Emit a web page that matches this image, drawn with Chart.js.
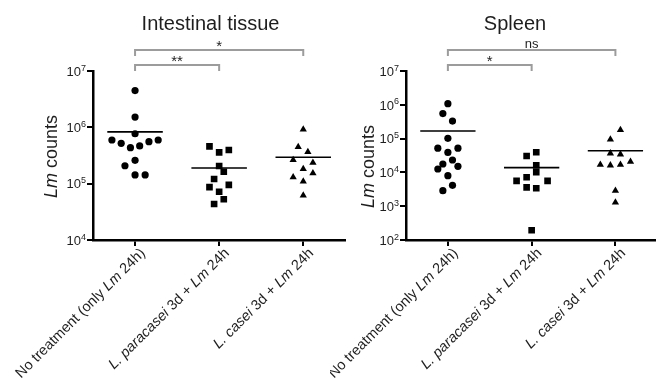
<!DOCTYPE html>
<html>
<head>
<meta charset="utf-8">
<script src="https://cdn.jsdelivr.net/npm/chart.js@4.4.1/dist/chart.umd.min.js"></script>
<style>
  body { margin: 0; background: #fff; width: 656px; height: 380px; overflow: hidden; position: relative; }
  #gut { position: absolute; left: 0; top: 0; }
  #spleen { position: absolute; left: 330px; top: 0; }
</style>
</head>
<body>
<canvas id="gut" width="350" height="380"></canvas>
<canvas id="spleen" width="332" height="380"></canvas>
<script>
// groups (x axis), <i> marks italic words
const categories = [
  'No treatment (only <i>Lm</i> 24h)',
  '<i>L. paracasei</i> 3d + <i>Lm</i> 24h',
  '<i>L. casei</i> 3d + <i>Lm</i> 24h'
];

// Intestinal tissue, Lm counts per animal (xOff = horizontal spread inside the group)
const gutNone     = [4.5e6, 1.52e6, 7.7e5, 5.96e5, 5.2e5, 4.35e5, 4.67e5, 5.56e5, 5.96e5, 2.6e5, 2.08e5, 1.43e5, 1.43e5];
const gutNoneOff  = [0, 0, 0, -0.275, -0.165, -0.055, 0.055, 0.165, 0.275, 0, -0.12, 0, 0.12];
const gutPara     = [4.6e5, 3.6e5, 3.96e5, 2.06e5, 1.63e5, 1.21e5, 8.7e4, 9.5e4, 7.2e4, 5.3e4, 4.35e4];
const gutParaOff  = [-0.115, 0, 0.115, 0, 0.055, -0.06, -0.115, 0.115, 0, 0.055, -0.06];
const gutCasei    = [9.2e5, 4.5e5, 3.65e5, 2.63e5, 2.36e5, 1.82e5, 1.3e5, 1.53e5, 1.1e5, 6.2e4];
const gutCaseiOff = [0, -0.06, 0.055, -0.12, 0.115, 0, -0.12, 0.115, 0, 0];
const gutMeans    = [8.3e5, 1.9e5, 2.94e5];

// Spleen
const splNone     = [1.08e6, 5.5e5, 3.3e5, 1.02e5, 5.2e4, 3.9e4, 5.2e4, 2.33e4, 1.77e4, 1.26e4, 1.51e4, 8.0e3, 4.15e3, 2.88e3];
const splNoneOff  = [0, -0.06, 0.055, 0, -0.12, 0, 0.12, 0.055, -0.06, -0.12, 0.12, 0, 0.055, -0.06];
const splPara     = [3.05e4, 3.94e4, 1.62e4, 1.01e4, 7.2e3, 5.6e3, 5.6e3, 3.6e3, 3.4e3, 194];
const splParaOff  = [-0.06, 0.055, 0.055, 0.055, -0.06, -0.18, 0.19, -0.06, 0.055, 0];
const splCasei    = [1.8e5, 9.5e4, 3.67e4, 3.43e4, 1.69e4, 1.62e4, 1.69e4, 2.07e4, 2.88e3, 1.3e3];
const splCaseiOff = [0.06, -0.06, -0.06, 0.06, -0.18, -0.06, 0.06, 0.18, 0, 0];
const splMeans    = [1.68e5, 1.38e4, 4.39e4];

// y axis decades (tick labels are 10^n)
const gutDecades = [4, 5, 6, 7];
const splDecades = [2, 3, 4, 5, 6, 7];

// significance: [group a, group b, label]
const gutSig = [[0, 1, '**'], [0, 2, '*']];
const splSig = [[0, 1, '*'], [0, 2, 'ns']];

const FONT = '"Liberation Sans", Arial, Helvetica, sans-serif';
const INK = '#1e1e1e';

function parts(str) {
  let italic = false;
  const out = [];
  str.split(/(<i>|<\/i>)/).forEach(s => {
    if (s === '<i>') italic = true;
    else if (s === '</i>') italic = false;
    else if (s) out.push([s, italic]);
  });
  return out;
}

function drawRich(ctx, str, size, align) {
  const p = parts(str);
  const fnt = it => (it ? 'italic ' : '') + size + 'px ' + FONT;
  let total = 0;
  p.forEach(([s, it]) => { ctx.font = fnt(it); total += ctx.measureText(s).width; });
  let x = align === 'right' ? -total : align === 'center' ? -total / 2 : 0;
  ctx.textAlign = 'left';
  p.forEach(([s, it]) => {
    ctx.font = fnt(it);
    ctx.fillText(s, x, 0);
    x += ctx.measureText(s).width;
  });
}

const annot = {
  id: 'annot',
  afterDraw(chart, args, o) {
    const ctx = chart.ctx, xs = chart.scales.x, ys = chart.scales.y, area = chart.chartArea;
    ctx.save();
    ctx.fillStyle = INK;

    // panel title
    ctx.font = '20px ' + FONT;
    ctx.textAlign = 'center';
    ctx.textBaseline = 'alphabetic';
    ctx.fillText(o.title, o.titleX, 30);

    // y tick labels 10^n with a real superscript
    o.decades.forEach(d => {
      const y = ys.getPixelForValue(Math.pow(10, d));
      const right = area.left - 7;
      ctx.textAlign = 'right';
      ctx.font = '9px ' + FONT;
      const sw = ctx.measureText(String(d)).width;
      ctx.fillText(String(d), right, y - 0.5);
      ctx.font = '13px ' + FONT;
      ctx.fillText('10', right - sw, y + 4.7);
    });

    // y axis title
    ctx.save();
    ctx.translate(o.yTitleX, o.yTitleY);
    ctx.rotate(-Math.PI / 2);
    ctx.textBaseline = 'middle';
    drawRich(ctx, '<i>Lm</i> counts', 18, 'center');
    ctx.restore();

    // rotated group labels
    categories.forEach((c, i) => {
      ctx.save();
      ctx.translate(xs.getPixelForValue(i) + 8, area.bottom + 11);
      ctx.rotate(-Math.PI / 4);
      ctx.textBaseline = 'middle';
      drawRich(ctx, c, 14.5, 'right');
      ctx.restore();
    });

    // significance brackets
    const levels = [65, 50];
    o.sig.forEach(([a, b, lab], k) => {
      const xa = xs.getPixelForValue(a), xb = xs.getPixelForValue(b), y = levels[k];
      ctx.strokeStyle = '#9c9c9c';
      ctx.lineWidth = 2;
      ctx.beginPath();
      ctx.moveTo(xa, y + 6);
      ctx.lineTo(xa, y);
      ctx.lineTo(xb, y);
      ctx.lineTo(xb, y + 6);
      ctx.stroke();
      ctx.fillStyle = INK;
      ctx.textAlign = 'center';
      ctx.textBaseline = 'alphabetic';
      ctx.font = (lab === 'ns' ? 13 : 15) + 'px ' + FONT;
      ctx.fillText(lab, (xa + xb) / 2, lab === 'ns' ? y - 2 : y + 1);
    });
    ctx.restore();
  }
};

function groupData(vals, offs, g) {
  return vals.map((v, i) => ({ x: g + offs[i], y: v }));
}

function meanLine(means) {
  const pts = [];
  means.forEach((m, g) => {
    pts.push({ x: g - 0.33, y: m }, { x: g + 0.33, y: m }, { x: g + 0.4, y: NaN });
  });
  return pts;
}

function makeChart(id, groups, means, decades, sig, yWidth, title) {
  const styles = [
    { pointStyle: 'circle', radius: 3.6 },
    { pointStyle: 'rect', radius: 4.7 },
    { pointStyle: 'triangle', radius: 4.2 }
  ];
  const datasets = groups.map(([vals, offs], g) => ({
    type: 'scatter',
    data: groupData(vals, offs, g),
    pointStyle: styles[g].pointStyle,
    pointRadius: styles[g].radius,
    pointBackgroundColor: '#000',
    pointBorderWidth: 0
  }));
  datasets.push({
    type: 'line',
    data: meanLine(means),
    borderColor: '#000',
    borderWidth: 1.6,
    pointRadius: 0,
    spanGaps: false
  });

  return new Chart(document.getElementById(id), {
    type: 'scatter',
    data: { datasets },
    options: {
      responsive: false,
      animation: false,
      devicePixelRatio: 1,
      layout: { padding: { left: 0, right: 1, top: 71, bottom: 0 } },
      plugins: {
        legend: { display: false },
        tooltip: { enabled: false },
        annot: { sig, decades, ...title }
      },
      scales: {
        x: {
          type: 'linear',
          min: -0.5,
          max: 2.5,
          afterBuildTicks: s => { s.ticks = [0, 1, 2].map(v => ({ value: v })); },
          afterFit: s => { s.height = 140; },
          ticks: { display: false },
          grid: { drawOnChartArea: false, color: '#000', lineWidth: 2, tickLength: 6 },
          border: { color: '#000', width: 2.5 }
        },
        y: {
          type: 'logarithmic',
          min: Math.pow(10, decades[0]),
          max: Math.pow(10, decades[decades.length - 1]),
          afterBuildTicks: s => { s.ticks = decades.map(d => ({ value: Math.pow(10, d), major: true })); },
          afterFit: s => { s.width = yWidth; },
          ticks: { display: false },
          grid: { drawOnChartArea: false, color: '#000', lineWidth: 2, tickLength: 6 },
          border: { color: '#000', width: 2.5 }
        }
      }
    },
    plugins: [annot]
  });
}

makeChart('gut',
  [[gutNone, gutNoneOff], [gutPara, gutParaOff], [gutCasei, gutCaseiOff]],
  gutMeans, gutDecades, gutSig, 93,
  { title: 'Intestinal tissue', titleX: 210.5, yTitleX: 52, yTitleY: 156.5 });

makeChart('spleen',
  [[splNone, splNoneOff], [splPara, splParaOff], [splCasei, splCaseiOff]],
  splMeans, splDecades, splSig, 76,
  { title: 'Spleen', titleX: 185, yTitleX: 39, yTitleY: 166.5 });
</script>
</body>
</html>
